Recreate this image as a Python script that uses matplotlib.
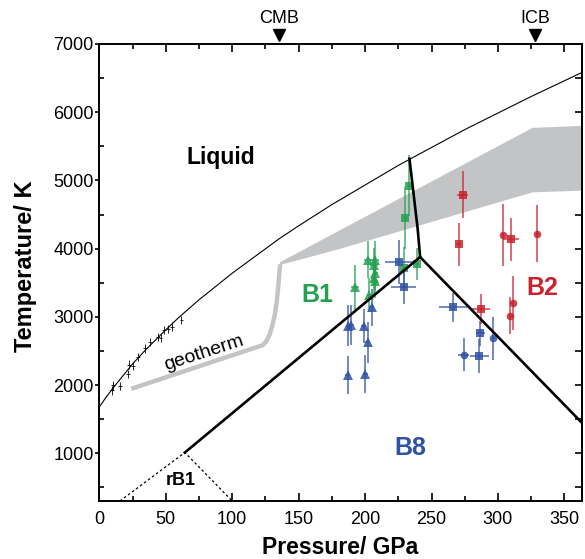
import matplotlib
matplotlib.use('Agg')
import matplotlib.pyplot as plt
from matplotlib.ticker import MultipleLocator

plt.rcParams['font.family'] = ['Liberation Sans', 'DejaVu Sans']

# melting curve (thin line) and low pressure melting data
P_liq = [0, 5, 10, 25, 35, 50, 60, 75, 100, 135, 150, 175, 225, 275, 325, 364]
T_liq = [1680, 1820, 1950, 2310, 2520, 2810, 2995, 3250, 3640, 4140, 4335, 4645, 5220, 5745, 6230, 6590]
P_melt = [9.2, 10.5, 15.5, 21.7, 22.5, 25, 29.2, 34.3, 38, 44.3, 46, 48.5, 51.8, 55, 61.8]
T_melt = [1920, 1994, 1985, 2167, 2300, 2280, 2413, 2536, 2635, 2709, 2684, 2806, 2821, 2857, 2954]

# geotherm and grey band
P_geo = [24, 123, 125.5, 128, 130, 132, 133.5, 134.5, 135.3, 136]
T_geo = [1945, 2585, 2640, 2730, 2860, 3030, 3220, 3420, 3600, 3770]
P_band = [136, 180, 326, 364, 364, 326, 180, 136]
T_band = [3800, 4258, 5770, 5800, 4850, 4825, 3990, 3760]

# phase boundaries
P_b1b8 = [64.3, 241.4]
T_b1b8 = [1010, 3876]
P_b8b2 = [241.4, 364]
T_b8b2 = [3876, 1430]
P_b1b2 = [241.4, 239.6, 233.4]
T_b1b2 = [3876, 4283, 5317]
P_rb1 = [15.5, 64.3, 100]
T_rb1 = [300, 1010, 300]

# B1 data
b1_tri_P = [202.0, 207.1, 206.5, 207.6, 206.5, 207.1, 192.6, 203.3]
b1_tri_T = [3840, 3840, 3766, 3644, 3570, 3521, 3433, 3323]
b1_tri_dP = [3, 3, 3, 2, 2, 2, 3, 2]
b1_tri_dT = [270, 270, 250, 250, 250, 250, 330, 250]
b1_sq_P = [232.8, 230.4, 229.6, 239.1]
b1_sq_T = [4924, 4446, 3720, 3777]
b1_sq_dP = [1.5, 1.5, 2, 1.5]
b1_sq_dT = [450, 450, 300, 230]

# B8 data
b8_tri_P = [205.0, 187.5, 189.6, 199.0, 202.0, 187.0, 200.1]
b8_tri_T = [3137, 2871, 2880, 2865, 2625, 2152, 2156]
b8_tri_dP = [2, 2, 2, 2, 2, 2, 2]
b8_tri_dT = [270, 300, 300, 250, 300, 280, 280]
b8_sq_P = [225.8, 229.1, 266.4, 286.7, 286.0]
b8_sq_T = [3806, 3433, 3137, 2758, 2422]
b8_sq_dP = [11, 9.5, 10.5, 3.5, 7]
b8_sq_dT = [320, 250, 210, 180, 250]
b8_ci_P = [296.5, 274.2]
b8_ci_T = [2684, 2447]
b8_ci_dP = [1, 4]
b8_ci_dT = [310, 240]

# B2 data
b2_sq_P = [273.4, 270.4, 309.8, 287.2]
b2_sq_T = [4792, 4062, 4136, 3117]
b2_sq_dP = [4, 2, 6, 7]
b2_sq_dT = [345, 310, 320, 220]
b2_ci_P = [303.5, 329.7, 311.0, 309.2]
b2_ci_T = [4200, 4220, 3201, 3019]
b2_ci_dP = [1, 1, 1, 1]
b2_ci_dT = [450, 420, 400, 270]

green = '#23a050'
blue = '#3052a2'
red = '#c8232f'
grey = '#c2c4c6'

fig = plt.figure(figsize=(5.85, 5.59), dpi=100)
ax = fig.add_axes([0.1699, 0.1038, 0.8244, 0.8175])

ax.fill(P_band, T_band, color=grey, lw=0, zorder=1)
ax.plot(P_geo, T_geo, color=grey, lw=3.2, solid_capstyle='butt', zorder=1)
ax.plot(P_liq, T_liq, 'k', lw=0.8, zorder=2)
ax.errorbar(P_melt, T_melt, xerr=1.5, yerr=60, fmt='none', ecolor='k', elinewidth=0.6, zorder=2)

def pts(P, T, dP, dT, c, m, ms):
    ax.errorbar(P, T, xerr=dP, yerr=dT, fmt=m, color=c, ms=ms, mew=0,
                ecolor=c, elinewidth=1.1, alpha=0.85, capsize=0, zorder=3)

pts(b1_tri_P, b1_tri_T, b1_tri_dP, b1_tri_dT, green, '^', 6.5)
pts(b1_sq_P, b1_sq_T, b1_sq_dP, b1_sq_dT, green, 's', 5.5)
pts(b8_tri_P, b8_tri_T, b8_tri_dP, b8_tri_dT, blue, '^', 6.5)
pts(b8_sq_P, b8_sq_T, b8_sq_dP, b8_sq_dT, blue, 's', 5.5)
pts(b8_ci_P, b8_ci_T, b8_ci_dP, b8_ci_dT, blue, 'o', 5.5)
pts(b2_sq_P, b2_sq_T, b2_sq_dP, b2_sq_dT, red, 's', 5.5)
pts(b2_ci_P, b2_ci_T, b2_ci_dP, b2_ci_dT, red, 'o', 5.5)

ax.plot(P_b1b8, T_b1b8, 'k', lw=1.9, zorder=4)
ax.plot(P_b8b2, T_b8b2, 'k', lw=1.9, zorder=4)
ax.plot(P_b1b2, T_b1b2, 'k', lw=1.9, zorder=4)
ax.plot(P_rb1, T_rb1, 'k', lw=0.9, ls=(0, (2, 2)), zorder=4)

ax.text(91.4, 5330, 'Liquid', fontsize=16.5, fontweight='bold', ha='center', va='center')
ax.text(163.7, 3320, 'B1', fontsize=18, fontweight='bold', color=green, ha='center', va='center')
ax.text(333.5, 3420, 'B2', fontsize=18, fontweight='bold', color=red, ha='center', va='center')
ax.text(234, 1070, 'B8', fontsize=18, fontweight='bold', color=blue, ha='center', va='center')
ax.text(61.5, 600, 'rB1', fontsize=13, fontweight='bold', ha='center', va='center')
ax.text(78.7, 2470, 'geotherm', fontsize=14, rotation=18, rotation_mode='anchor',
        ha='center', va='center')

# CMB / ICB markers above the axes
for p, lab in [(135, 'CMB'), (328, 'ICB')]:
    ax.plot([p], [1.0197], 'kv', ms=8, transform=ax.get_xaxis_transform(), clip_on=False)
    ax.text(p, 1.056, lab, fontsize=13, ha='center', va='center',
            transform=ax.get_xaxis_transform())

ax.set_xlim(0, 363)
ax.set_ylim(300, 7000)
ax.xaxis.set_major_locator(MultipleLocator(50))
ax.xaxis.set_minor_locator(MultipleLocator(25))
ax.yaxis.set_major_locator(MultipleLocator(1000))
ax.yaxis.set_minor_locator(MultipleLocator(500))
ax.tick_params(axis='x', which='both', direction='in', top=True, labelsize=13, pad=7, width=1.2)
ax.tick_params(axis='x', which='major', length=6)
ax.tick_params(axis='x', which='minor', length=3.5)
ax.tick_params(axis='y', which='major', direction='out', length=3, labelsize=13, pad=1, width=1.2)
ax.tick_params(axis='y', which='minor', direction='in', length=3.5, width=1.2)

right = ax.secondary_yaxis('right')
right.yaxis.set_major_locator(MultipleLocator(500))
right.tick_params(direction='in', length=5, width=1.2, labelright=False)

for s in ax.spines.values():
    s.set_linewidth(1.4)
right.spines['right'].set_linewidth(1.4)

ax.set_xlabel('Pressure/ GPa', fontsize=16.5, fontweight='bold')
ax.set_ylabel('Temperature/ K', fontsize=17, fontweight='bold')
ax.xaxis.set_label_coords(0.5, -0.076)
ax.yaxis.set_label_coords(-0.129, 0.513)

plt.savefig('out.png', dpi=100)
plt.close()
